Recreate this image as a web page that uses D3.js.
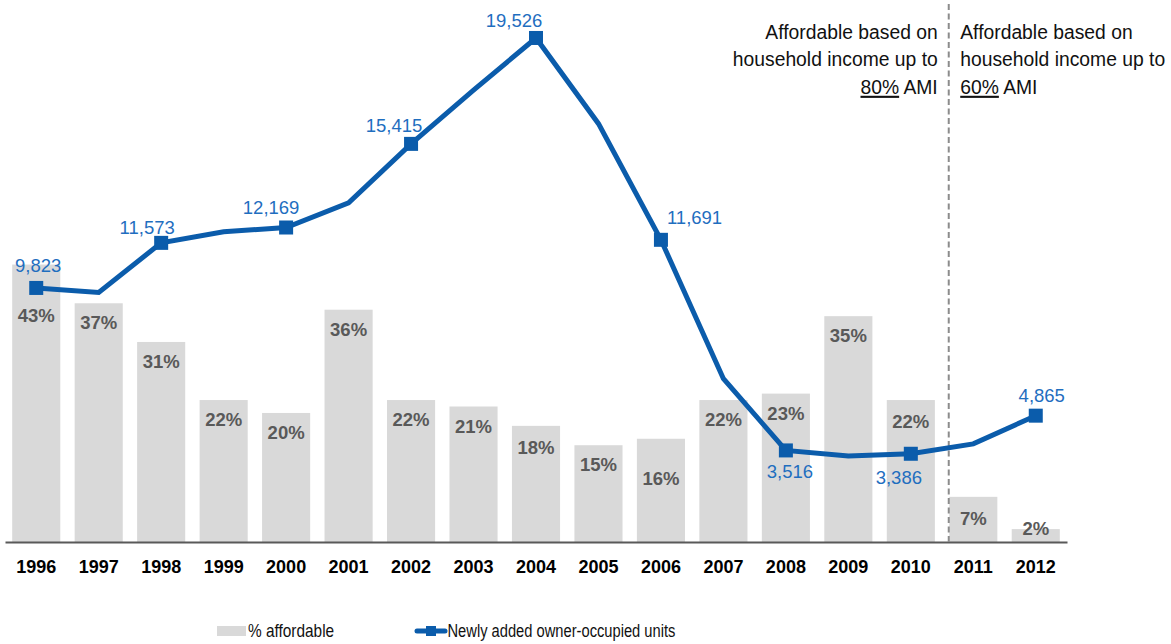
<!DOCTYPE html>
<html>
<head>
<meta charset="utf-8">
<script src="https://cdn.jsdelivr.net/npm/d3@7"></script>
<style>
  html, body { margin: 0; padding: 0; background: #fff; }
  svg { display: block; }
  text { font-family: "Liberation Sans", Arial, sans-serif; }
</style>
</head>
<body>
<svg id="chart" width="1171" height="644"></svg>
<script>
// Years on the category axis
const years = ["1996","1997","1998","1999","2000","2001","2002","2003","2004",
               "2005","2006","2007","2008","2009","2010","2011","2012"];

// Share of newly added owner-occupied units that were affordable
const pctAffordable = [0.43,0.37,0.31,0.22,0.20,0.36,0.22,0.21,0.18,
                       0.15,0.16,0.22,0.23,0.35,0.22,0.07,0.02];

// Newly added owner-occupied units
const newUnits = [9823,9650,11573,12000,12169,13130,15415,17500,19526,
                  16200,11691,6300,3516,3300,3386,3770,4865];

// Years whose point carries a marker and a value label
const labeledYears = ["1996","1998","2000","2002","2004","2006","2008","2010","2012"];

// Annotation text on either side of the threshold change
const noteLeft  = ["Affordable based on", "household income up to", ["80%", " AMI"]];
const noteRight = ["Affordable based on", "household income up to", ["60%", " AMI"]];
const thresholdYear = "2011";

const legendLabels = ["% affordable", "Newly added owner-occupied units"];

// ---- layout ----
const baseY = 542;
const svg = d3.select("#chart");

const x = d3.scaleBand()
  .domain(years)
  .range([5, 1067])
  .paddingInner(0.23)
  .paddingOuter(0.115);

const yPct = d3.scaleLinear().domain([0, 0.84]).range([baseY, 0]);
const yUnits = d3.scaleLinear().domain([0, 21000]).range([baseY - 1, 0]);

const cx = d => x(d) + x.bandwidth() / 2;

const barColor = "#d9d9d9";
const lineColor = "#0b5cab";
const valueColor = "#1f6ebf";

// Bars
const bars = years.map((y, i) => ({ year: y, v: pctAffordable[i] }));
svg.append("g").selectAll("rect")
  .data(bars).join("rect")
  .attr("x", d => x(d.year))
  .attr("width", x.bandwidth())
  .attr("y", d => yPct(d.v))
  .attr("height", d => baseY - yPct(d.v))
  .attr("fill", barColor);

// Percent labels inside bars (baseline offset below the bar top)
const pctNudge = { "1996": 57, "2006": 46, "2012": 6, "2004": 28, "2010": 28, "2011": 28 };
svg.append("g").selectAll("text")
  .data(bars).join("text")
  .attr("x", d => cx(d.year))
  .attr("y", d => yPct(d.v) + (pctNudge[d.year] ?? 26))
  .attr("text-anchor", "middle")
  .attr("font-size", 18.5)
  .attr("font-weight", "bold")
  .attr("fill", "#595959")
  .text(d => d3.format(".0%")(d.v));

// Category axis
const axis = svg.append("g")
  .attr("transform", `translate(0,${baseY})`)
  .call(d3.axisBottom(x).tickSize(0).tickPadding(18));
axis.select(".domain").attr("stroke", "#595959").attr("stroke-width", 2);
axis.selectAll("text")
  .attr("font-family", "Liberation Sans, Arial, sans-serif")
  .attr("font-size", 18)
  .attr("font-weight", "bold")
  .attr("fill", "#000");

// Threshold divider
const divX = x(thresholdYear) - 0.5;
svg.append("line")
  .attr("x1", divX).attr("x2", divX)
  .attr("y1", 4).attr("y2", baseY)
  .attr("stroke", "#8c8c8c")
  .attr("stroke-width", 2)
  .attr("stroke-dasharray", "6,3.5");

// Line series
const pts = years.map((y, i) => ({ year: y, v: newUnits[i] }));
const line = d3.line().x(d => cx(d.year)).y(d => yUnits(d.v));
svg.append("path")
  .datum(pts)
  .attr("d", line)
  .attr("fill", "none")
  .attr("stroke", lineColor)
  .attr("stroke-width", 5)
  .attr("stroke-linejoin", "miter");

const marked = pts.filter(d => labeledYears.includes(d.year));
const ms = 14;
svg.append("g").selectAll("rect")
  .data(marked).join("rect")
  .attr("x", d => cx(d.year) - ms / 2)
  .attr("y", d => yUnits(d.v) - ms / 2)
  .attr("width", ms).attr("height", ms)
  .attr("fill", lineColor);

// Value labels: offset of the text baseline from each marker
const valueNudge = {
  "1996": [2, -16, "middle"], "1998": [-14, -9, "middle"], "2000": [-15, -14, "middle"],
  "2002": [-17, -12, "middle"], "2004": [-22, -11, "middle"], "2006": [6, -16, "start"],
  "2008": [4, 28, "middle"], "2010": [-12, 30, "middle"], "2012": [6, -14, "middle"]
};
svg.append("g").selectAll("text")
  .data(marked).join("text")
  .attr("x", d => cx(d.year) + valueNudge[d.year][0])
  .attr("y", d => yUnits(d.v) + valueNudge[d.year][1])
  .attr("text-anchor", d => valueNudge[d.year][2])
  .attr("font-size", 18.5)
  .attr("fill", valueColor)
  .text(d => d3.format(",")(d.v));

// Condensed annotation text
function noteBlock(lines, px, anchor) {
  const g = svg.append("g");
  lines.forEach((ln, i) => {
    const t = g.append("text")
      .attr("transform", `translate(${px},${38.5 + i * 27.6}) scale(0.92,1)`)
      .attr("text-anchor", anchor)
      .attr("font-size", 21)
      .attr("fill", "#111");
    if (Array.isArray(ln)) {
      t.append("tspan").style("text-decoration", "underline").text(ln[0]);
      t.append("tspan").text(ln[1]);
    } else {
      t.text(ln);
    }
  });
}
noteBlock(noteLeft, divX - 11, "end");
noteBlock(noteRight, divX + 11.5, "start");

// Legend
const lg = svg.append("g");
lg.append("rect").attr("x", 217).attr("y", 626).attr("width", 29).attr("height", 10).attr("fill", barColor);
lg.append("text")
  .attr("transform", "translate(248,637) scale(0.88,1)")
  .attr("font-size", 17.5).attr("fill", "#111")
  .text(legendLabels[0]);
lg.append("line").attr("x1", 417).attr("x2", 445).attr("y1", 631).attr("y2", 631)
  .attr("stroke", lineColor).attr("stroke-width", 5).attr("stroke-linecap", "round");
lg.append("rect").attr("x", 426).attr("y", 626).attr("width", 10).attr("height", 10).attr("fill", lineColor);
lg.append("text")
  .attr("transform", "translate(447.5,637) scale(0.84,1)")
  .attr("font-size", 17.5).attr("fill", "#111")
  .text(legendLabels[1]);
</script>
</body>
</html>
